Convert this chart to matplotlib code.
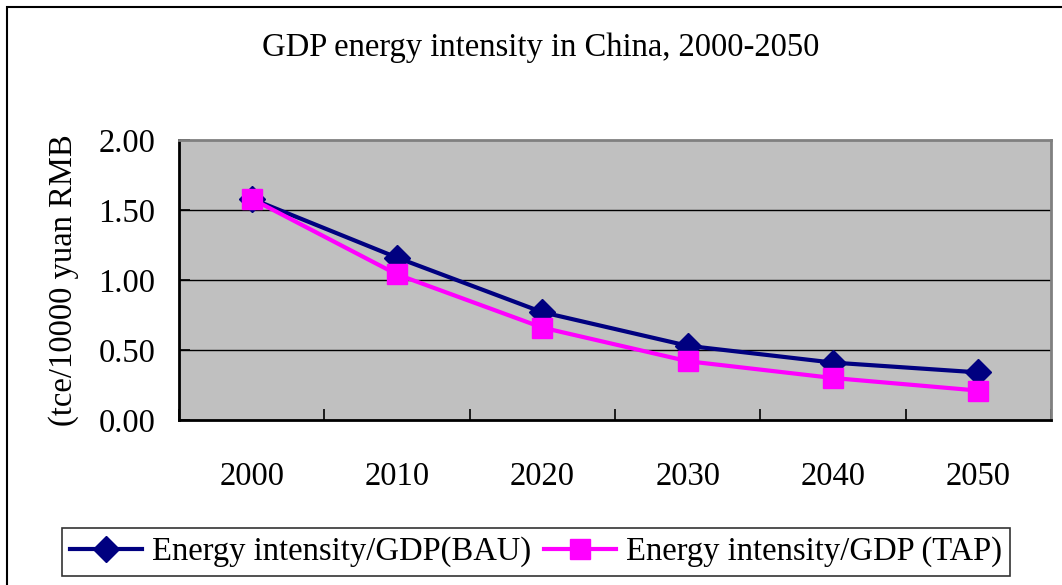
import matplotlib
matplotlib.use("Agg")
import matplotlib.pyplot as plt
from matplotlib.patches import Rectangle
import numpy as np

years = ["2000", "2010", "2020", "2030", "2040", "2050"]
bau = [1.58, 1.16, 0.77, 0.53, 0.41, 0.34]
tap = [1.58, 1.04, 0.66, 0.42, 0.30, 0.21]
y_ticks = [0.0, 0.5, 1.0, 1.5, 2.0]

plt.rcParams["font.family"] = ["Liberation Serif", "DejaVu Serif"]
FS = 23.5

W, H = 1062, 585
fig = plt.figure(figsize=(W / 100, H / 100), dpi=100)
fig.patch.set_facecolor("white")

# outer chart frame
fig.add_artist(Rectangle((7 / W, -0.05), 1.2, 1 - 7 / H + 0.05,
                         transform=fig.transFigure, fill=False,
                         edgecolor="black", linewidth=1.5))

left, right, top, bottom = 179, 1051, 140, 420
ax = fig.add_axes([left / W, 1 - bottom / H, (right - left) / W, (bottom - top) / H])
ax.set_facecolor("#C0C0C0")

x = np.arange(len(years))
ax.plot(x, bau, color="#000080", linewidth=3, marker="D", markersize=13,
        label="Energy intensity/GDP(BAU)", zorder=3)
ax.plot(x, tap, color="#FF00FF", linewidth=3, marker="s", markersize=15,
        label="Energy intensity/GDP (TAP)", zorder=4)

ax.set_xlim(-0.5, len(years) - 0.5)
ax.set_ylim(0, 2.0)
ax.set_yticks(y_ticks)
ax.set_yticklabels([f"{v:.2f}" for v in y_ticks], fontsize=FS)
ax.set_xticks(x)
ax.set_xticklabels(years, fontsize=FS)
ax.set_xticks(np.arange(-0.5, len(years) + 0.5, 1), minor=True)
ax.tick_params(axis="x", which="major", length=0, pad=30)
ax.tick_params(axis="x", which="minor", direction="in", length=8, width=1.2, color="black")
ax.tick_params(axis="y", direction="in", length=8, width=1.2, pad=17, color="black")

for yv in y_ticks[1:-1]:
    ax.axhline(yv, color="black", linewidth=1, zorder=1)

ax.spines["left"].set_color("black")
ax.spines["bottom"].set_color("black")
ax.spines["top"].set_color("#808080")
ax.spines["right"].set_color("#808080")
for s in ax.spines.values():
    s.set_linewidth(2)

ax.set_ylabel("(tce/10000 yuan RMB", fontsize=FS, labelpad=14)
fig.text(541 / W, 1 - 48 / H, "GDP energy intensity in China, 2000-2050",
         fontsize=FS, ha="center", va="center")

leg = fig.legend(loc="center", bbox_to_anchor=(536 / W, 1 - 552 / H), ncol=2,
                 fontsize=FS, frameon=True, fancybox=False, handlelength=2.2,
                 handletextpad=0.3, columnspacing=0.4, borderpad=0.25,
                 edgecolor="black")
leg.get_frame().set_linewidth(1.2)

fig.savefig("out.png", dpi=100)
